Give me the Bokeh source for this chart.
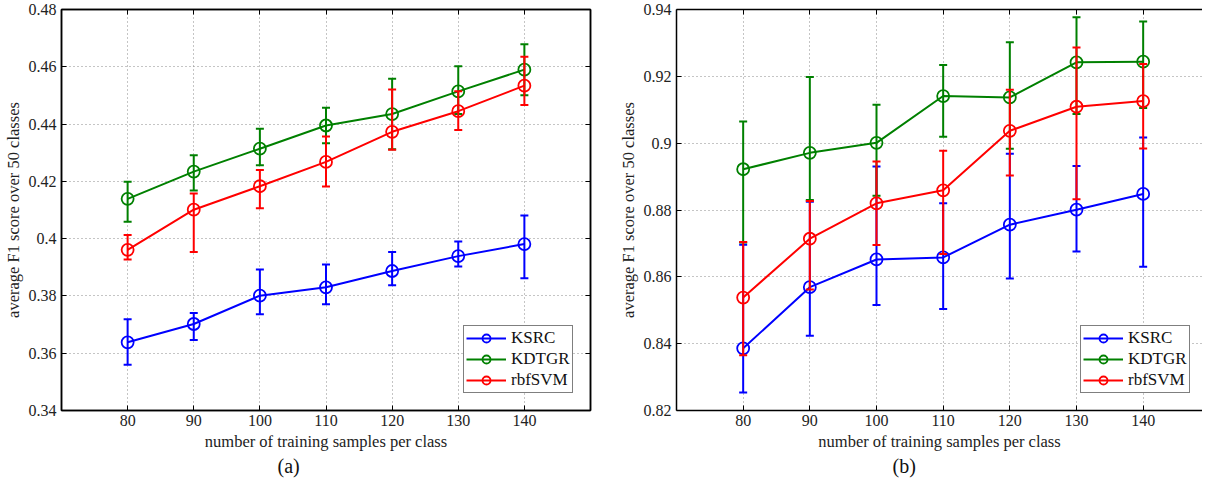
from bokeh.plotting import figure
from bokeh.models import (FixedTicker, LinearAxis, Legend, LegendItem, Title, Range1d)
from bokeh.layouts import row
from bokeh.embed import file_html
from bokeh.resources import INLINE

# ---------------- data ----------------
x_samples = [80, 90, 100, 110, 120, 130, 140]
x_ticks = [80, 90, 100, 110, 120, 130, 140]
x_tick_labels = ["80", "90", "100", "110", "120", "130", "140"]
series_names = ["KSRC", "KDTGR", "rbfSVM"]
series_colors = ["#0000ff", "#008000", "#ff0000"]

# panel (a)
ksrc_a = [0.3638, 0.3702, 0.3801, 0.3830, 0.3887, 0.3939, 0.3981]
ksrc_a_hi = [0.3719, 0.3740, 0.3892, 0.3910, 0.3953, 0.3990, 0.4081]
ksrc_a_lo = [0.3560, 0.3646, 0.3736, 0.3771, 0.3837, 0.3903, 0.3862]
kdtgr_a = [0.4139, 0.4234, 0.4314, 0.4395, 0.4435, 0.4514, 0.4590]
kdtgr_a_hi = [0.4199, 0.4291, 0.4384, 0.4457, 0.4558, 0.4602, 0.4679]
kdtgr_a_lo = [0.4059, 0.4168, 0.4256, 0.4333, 0.4312, 0.4435, 0.4501]
rbfsvm_a = [0.3961, 0.4101, 0.4183, 0.4268, 0.4373, 0.4445, 0.4534]
rbfsvm_a_hi = [0.4013, 0.4158, 0.4240, 0.4357, 0.4521, 0.4515, 0.4635]
rbfsvm_a_lo = [0.3927, 0.3953, 0.4106, 0.4182, 0.4310, 0.4379, 0.4467]
y_ticks_a = [0.34, 0.36, 0.38, 0.4, 0.42, 0.44, 0.46, 0.48]
y_tick_labels_a = ["0.34", "0.36", "0.38", "0.4", "0.42", "0.44", "0.46", "0.48"]

# panel (b)
ksrc_b = [0.8386, 0.8569, 0.8652, 0.8658, 0.8756, 0.8801, 0.8848]
ksrc_b_hi = [0.8696, 0.8825, 0.8930, 0.8820, 0.8968, 0.8932, 0.9017]
ksrc_b_lo = [0.8254, 0.8424, 0.8516, 0.8504, 0.8595, 0.8676, 0.8630]
kdtgr_b = [0.8922, 0.8971, 0.9001, 0.9141, 0.9137, 0.9242, 0.9244]
kdtgr_b_hi = [0.9065, 0.9198, 0.9115, 0.9234, 0.9302, 0.9377, 0.9364]
kdtgr_b_lo = [0.8703, 0.8830, 0.8843, 0.9019, 0.8983, 0.9087, 0.9105]
rbfsvm_b = [0.8538, 0.8714, 0.8820, 0.8859, 0.9037, 0.9109, 0.9126]
rbfsvm_b_hi = [0.8704, 0.8827, 0.8945, 0.8977, 0.9160, 0.9286, 0.9237]
rbfsvm_b_lo = [0.8365, 0.8562, 0.8695, 0.8668, 0.8903, 0.8832, 0.8984]
y_ticks_b = [0.82, 0.84, 0.86, 0.88, 0.9, 0.92, 0.94]
y_tick_labels_b = ["0.82", "0.84", "0.86", "0.88", "0.9", "0.92", "0.94"]

x_label = "number of training samples per class"
y_label = "average F1 score over 50 classes"

FONT = "Liberation Serif"


def style_axis(ax, show_labels=True):
    ax.axis_line_color = "black"
    ax.axis_line_width = 1.5
    ax.major_tick_line_color = "black"
    ax.major_tick_line_width = 1
    ax.major_tick_in = 5
    ax.major_tick_out = 0
    ax.minor_tick_line_color = None
    ax.major_label_text_font = FONT
    ax.axis_label_text_font = FONT
    ax.axis_label_text_font_style = "normal"
    ax.axis_label_text_font_size = "16.5px"
    ax.axis_label_text_color = "#222222"
    ax.axis_label_standoff = 3
    if show_labels:
        ax.major_label_text_color = "#222222"
        ax.major_label_text_font_size = "16px"
        ax.major_label_standoff = 4
    else:
        ax.major_label_text_color = None
        ax.major_label_text_font_size = "0px"
        ax.major_label_standoff = 0


def make_panel(series, y_ticks, y_labels, tag, width, min_left, min_right,
               x_end, with_right, tag_offset, legend_x):
    p = figure(width=width, height=490,
               x_range=Range1d(70, x_end),
               y_range=Range1d(y_ticks[0], y_ticks[-1]),
               output_backend="svg", toolbar_location=None,
               min_border_left=min_left, min_border_right=min_right,
               min_border_top=15, min_border_bottom=74,
               background_fill_color="white", border_fill_color="white",
               styles={"flex-shrink": "0"})
    p.outline_line_color = "black" if with_right else None
    p.outline_line_width = 1.5

    xt = FixedTicker(ticks=x_ticks)
    yt = FixedTicker(ticks=y_ticks)
    x_over = {t: l for t, l in zip(x_ticks, x_tick_labels)}
    y_over = {t: l for t, l in zip(y_ticks, y_labels)}

    p.xaxis.ticker = xt
    p.yaxis.ticker = yt
    p.xaxis.major_label_overrides = x_over
    p.yaxis.major_label_overrides = y_over
    p.xaxis.axis_label = x_label
    p.yaxis.axis_label = y_label
    style_axis(p.xaxis[0])
    style_axis(p.yaxis[0])
    p.yaxis.major_label_standoff = 5

    top = LinearAxis(ticker=xt)
    style_axis(top, show_labels=False)
    p.add_layout(top, "above")
    if with_right:
        rgt = LinearAxis(ticker=yt)
        style_axis(rgt, show_labels=False)
        p.add_layout(rgt, "right")

    p.xgrid.ticker = xt
    p.ygrid.ticker = yt
    for g in (p.xgrid, p.ygrid):
        g.grid_line_color = "#8a8a8a"
        g.grid_line_dash = "1 3"
        g.grid_line_width = 1

    items = []
    for (name, color, (mean, hi, lo)) in zip(series_names, series_colors, series):
        p.segment(x0=x_samples, y0=lo, x1=x_samples, y1=hi,
                  line_color=color, line_width=2)
        p.scatter(x=x_samples, y=hi, marker="dash", size=8,
                  line_color=color, line_width=2)
        p.scatter(x=x_samples, y=lo, marker="dash", size=8,
                  line_color=color, line_width=2)
        lr = p.line(x=x_samples, y=mean, line_color=color, line_width=2)
        mr = p.scatter(x=x_samples, y=mean, marker="circle", size=12,
                       line_color=color, line_width=1.8, fill_color=None)
        items.append(LegendItem(label=name, renderers=[lr, mr]))

    legend = Legend(items=items, location=(legend_x, 17))
    legend.border_line_color = "black"
    legend.border_line_width = 1.2
    legend.background_fill_color = "white"
    legend.background_fill_alpha = 1
    legend.label_text_font = FONT
    legend.label_text_font_size = "17px"
    legend.label_text_color = "#111111"
    legend.glyph_width = 40
    legend.glyph_height = 20
    legend.label_height = 20
    legend.label_standoff = 5
    legend.spacing = 1
    legend.padding = 2
    legend.margin = 0
    p.add_layout(legend)

    t = Title(text=tag, align="left", offset=tag_offset,
              text_font=FONT, text_font_size="20px",
              text_font_style="normal", text_color="#111111", standoff=-1)
    p.add_layout(t, "below")
    return p


pa = make_panel(
    [(ksrc_a, ksrc_a_hi, ksrc_a_lo),
     (kdtgr_a, kdtgr_a_hi, kdtgr_a_lo),
     (rbfsvm_a, rbfsvm_a_hi, rbfsvm_a_lo)],
    y_ticks_a, y_tick_labels_a, "(a)",
    width=615, min_left=54, min_right=25, x_end=150, with_right=True,
    tag_offset=216, legend_x=402)

pb = make_panel(
    [(ksrc_b, ksrc_b_hi, ksrc_b_lo),
     (kdtgr_b, kdtgr_b_hi, kdtgr_b_lo),
     (rbfsvm_b, rbfsvm_b_hi, rbfsvm_b_lo)],
    y_ticks_b, y_tick_labels_b, "(b)",
    width=587, min_left=58, min_right=0, x_end=148.9, with_right=False,
    tag_offset=216, legend_x=404)

layout = row(pa, pb, width=1202, margin=(-6, 0, 0, 0))
open("out.html", "w").write(file_html(layout, INLINE))
